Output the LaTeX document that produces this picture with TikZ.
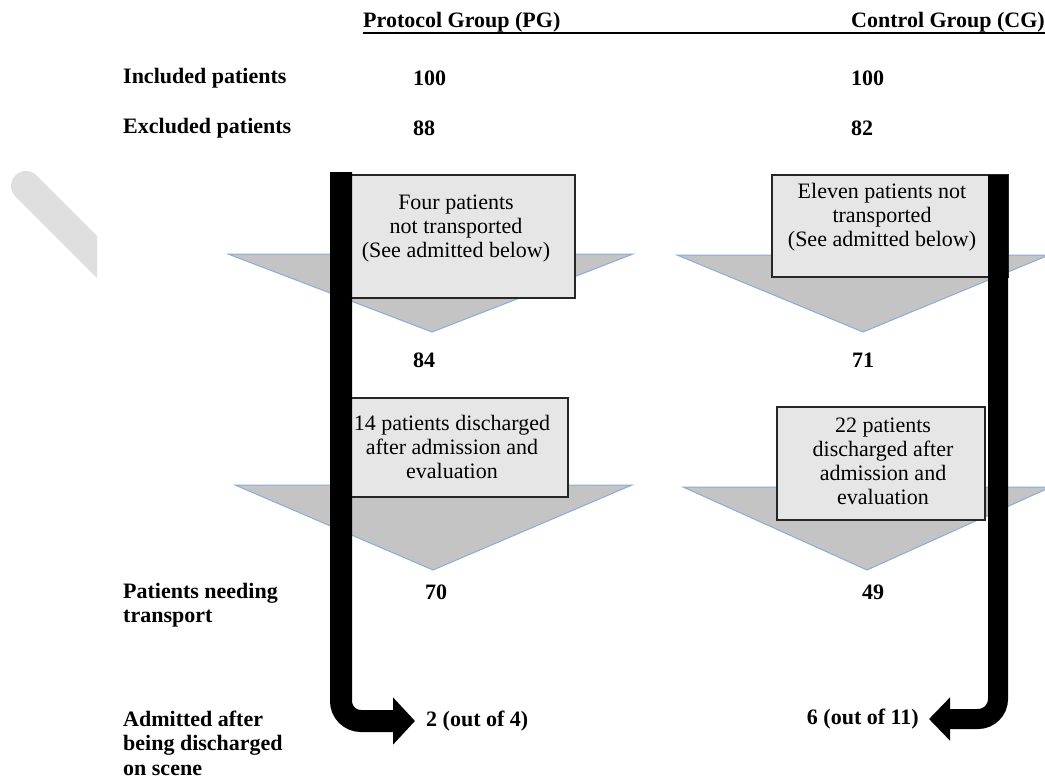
\documentclass[tikz,border=0pt]{standalone}
\usepackage{fontspec}
\setmainfont{Liberation Serif}
\usetikzlibrary{positioning,calc,arrows.meta}

\definecolor{funnelgray}{RGB}{196,196,196}
\definecolor{funnelline}{RGB}{140,172,212}
\definecolor{boxgray}{RGB}{230,230,230}
\definecolor{stripegray}{RGB}{223,223,223}

\tikzset{
  lbl/.style={font=\fontsize{22}{24.5}\selectfont\bfseries, inner sep=0pt, anchor=west, align=left},
  num/.style={font=\fontsize{22}{25}\selectfont\bfseries, inner sep=0pt, anchor=west},
  funnel/.style={fill=funnelgray, draw=funnelline, line width=1pt},
  skipbox/.style={draw=black!85, fill=boxgray, line width=1.3pt, inner sep=0pt},
  skiptext/.style={font=\fontsize{22}{24}\selectfont, align=center, inner sep=0pt},
  bar/.style={line width=22pt, rounded corners=20pt, -{Triangle[length=22pt,width=46pt]}}
}

\begin{document}
\begin{tikzpicture}[x=1pt,y=-1pt]
	\useasboundingbox (0,0) rectangle (1045,780);

	\begin{scope}
		\clip (0,150) rectangle (97,300);
		\draw[line width=30pt, stripegray, line cap=round] (26,186) -- (140,300);
	\end{scope}

	% headings
	\node[num, anchor=base west] (pghead) at (363,27) {Protocol Group (PG)};
	\node[num, anchor=base west] (cghead) at (851,27) {Control Group (CG)};
	\draw[line width=1.5pt] ([yshift=-1pt]pghead.south west) -- ([yshift=-1pt]cghead.south east);

	\node[lbl] (incl) at (123,78) {Included patients};
	\node[lbl] (excl) at (123,128) {Excluded patients};
	\node[lbl] (need) at (123,605) {Patients needing\\transport};
	\node[lbl] (adm) at (123,743) {Admitted after\\being discharged\\on scene};

	\node[num] (pgincl) at (413,78) {100};
	\node[num] (cgincl) at (851,78) {100};
	\node[num] (pgexcl) at (413,128) {88};
	\node[num] (cgexcl) at (851,128) {82};

	% funnels
	\draw[funnel] (228,254) -- (633,254) -- (432,332) -- cycle;
	\draw[funnel] (677,255) -- (1049,255) -- (863,332) -- cycle;
	\draw[funnel] (235,485) -- (632,485) -- (433,570) -- cycle;
	\draw[funnel] (683,487) -- (1051,487) -- (867,570) -- cycle;

	\node[skipbox, minimum width=230pt, minimum height=123pt] (pgskipbox) at (460,236.5) {};
	\node[skiptext] (pgskip) at (456,229) {Four patients\\not transported\\(See admitted below)};
	\node[skipbox, minimum width=236pt, minimum height=102pt] (cgskipbox) at (890,226) {};
	\node[skiptext] (cgskip) at (882,217) {Eleven patients not\\transported\\(See admitted below)};

	\node[num] (pgleft) at (413,360) {84};
	\node[num] (cgleft) at (852,360) {71};

	\node[skipbox, minimum width=223pt, minimum height=99pt] (pgdisbox) at (456.5,447.5) {};
	\node[skiptext] (pgdis) at (452,447) {14 patients discharged\\after admission and\\evaluation};
	\node[skipbox, minimum width=208pt, minimum height=113pt] (cgdisbox) at (881,463.5) {};
	\node[skiptext] (cgdis) at (883,461) {22 patients\\discharged after\\admission and\\evaluation};

	\node[num] (pgneed) at (425,592) {70};
	\node[num] (cgneed) at (862,592) {49};

	% admitted after all
	\coordinate (pgtop) at (341,172);
	\node[num] (pgadm) at (426,721) {2 (out of 4)};
	\draw[bar] (pgtop) |- ([xshift=-11pt]pgadm.west);

	\coordinate (cgtop) at (998,175);
	\node[num, anchor=east] (cgadm) at (919,719) {6 (out of 11)};
	\draw[bar, line width=20pt, -{Triangle[length=21pt,width=42pt]}] (cgtop) |- ([xshift=10pt]cgadm.east);
\end{tikzpicture}
\end{document}
